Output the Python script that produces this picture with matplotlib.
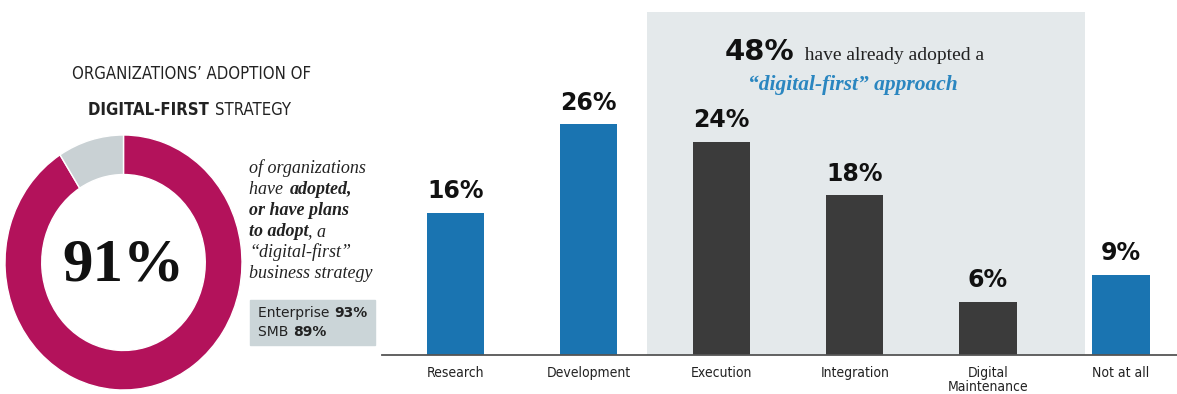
import matplotlib.pyplot as plt

W, H = 1177, 394

categories = ['Research', 'Development', 'Execution', 'Integration', 'Digital\nMaintenance', 'Not at all']
values = [16, 26, 24, 18, 6, 9]
bar_colors = ['#1a74b1', '#1a74b1', '#3b3b3b', '#3b3b3b', '#3b3b3b', '#1a74b1']

donut_values = [91, 9]
donut_colors = ['#b3125b', '#c9d1d4']

fig = plt.figure(figsize=(W / 100, H / 100), dpi=100)
fig.patch.set_facecolor('white')


def px_axes(x0, y0, x1, y1):
    # axes box given in image pixels (top-left origin)
    return fig.add_axes([x0 / W, 1 - y1 / H, (x1 - x0) / W, (y1 - y0) / H])


def rich(x, y, parts, **common):
    # draw text pieces one after another on one line, x/y in pixels
    r = fig.canvas.get_renderer()
    for txt, kw in parts:
        opts = dict(common)
        opts.update(kw)
        fig.text(x / W, 1 - y / H, txt, va='baseline', ha='left', **opts)
        # trailing spaces are not counted in the extent, add them by hand
        probe = fig.text(0, 0, txt.rstrip() + '|', **opts)
        bar = fig.text(0, 0, '|', **opts)
        wtxt = probe.get_window_extent(renderer=r).width - bar.get_window_extent(renderer=r).width
        nsp = len(txt) - len(txt.rstrip())
        fs = opts.get('fontsize', 10)
        probe.remove()
        bar.remove()
        x += wtxt + nsp * fs * 0.35 * 100 / 72
    return x


cond = dict(family='DejaVu Sans', fontstretch='condensed')

# ---- bar chart ----
ax = px_axes(382, 0, 1177, 355)
xs = list(range(len(values)))
ax.axvspan(1.44, 4.73, ymax=38.6 / 40, color='#e4e9eb', zorder=0, lw=0)
ax.bar(xs, values, width=0.43, color=bar_colors, zorder=2)
for x, v in zip(xs, values):
    ax.annotate(f'{v}%', (x, v), xytext=(0, 7), textcoords='offset points',
                ha='center', va='bottom', fontsize=17, fontweight='bold', color='#111111')
ax.set_xlim(-0.55, 5.42)
ax.set_ylim(0, 40)
ax.set_xticks(xs)
ax.set_xticklabels(categories, fontsize=10, color='#222222', linespacing=1.0, **cond)
ax.tick_params(axis='x', length=0, pad=8)
ax.set_yticks([])
for s in ['left', 'right', 'top']:
    ax.spines[s].set_visible(False)
ax.spines['bottom'].set_color('#555555')
ax.spines['bottom'].set_linewidth(1.3)
ax.set_facecolor('none')

# ---- donut ----
axd = px_axes(5, 135, 242, 390)
axd.pie(donut_values, colors=donut_colors, startangle=90, counterclock=False,
        wedgeprops=dict(width=0.31, edgecolor='white', linewidth=1))
axd.set_aspect('auto')
axd.set_xlim(-1, 1)
axd.set_ylim(-1, 1)
axd.text(0, -0.02, '91%', ha='center', va='center', fontsize=44,
         fontweight='bold', family='Liberation Serif', color='#111111')

# ---- left texts ----
fig.text(192 / W, 1 - 79 / H, 'ORGANIZATIONS\u2019 ADOPTION OF', ha='center', va='baseline',
         fontsize=12, color='#222222', **cond)
rich(88, 115, [('DIGITAL-FIRST ', dict(fontweight='bold')), ('STRATEGY', {})],
     fontsize=12, color='#222222', **cond)

serif = dict(family='Liberation Serif', fontsize=13, color='#222222', style='italic')
bold = dict(fontweight='bold')
lines = [
    [('of organizations', {})],
    [('have ', {}), ('adopted,', bold)],
    [('or have plans', bold)],
    [('to adopt', bold), (', a', {})],
    [('\u201cdigital-first\u201d', {})],
    [('business strategy', {})],
]
for i, parts in enumerate(lines):
    rich(249, 173 + i * 21, parts, **serif)

fig.patches.append(plt.Rectangle((250 / W, 1 - 345 / H), 125 / W, 45 / H,
                                 transform=fig.transFigure, color='#cbd5d8', zorder=0))
rich(258, 317, [('Enterprise ', {}), ('93%', bold)], fontsize=10, color='#222222')
rich(258, 336, [('SMB ', {}), ('89%', bold)], fontsize=10, color='#222222')

# ---- callout in shaded area ----
rich(725, 60, [('48%', dict(fontsize=21, fontweight='bold', color='#111111')),
               ('  have already adopted a', dict(fontsize=14, family='Liberation Serif',
                                                 color='#222222'))])
fig.text(853 / W, 1 - 90 / H, '\u201cdigital-first\u201d approach', ha='center', va='baseline',
         fontsize=15.5, family='Liberation Serif', style='italic', fontweight='bold', color='#2a86c0')

fig.savefig('out.png', dpi=100)
